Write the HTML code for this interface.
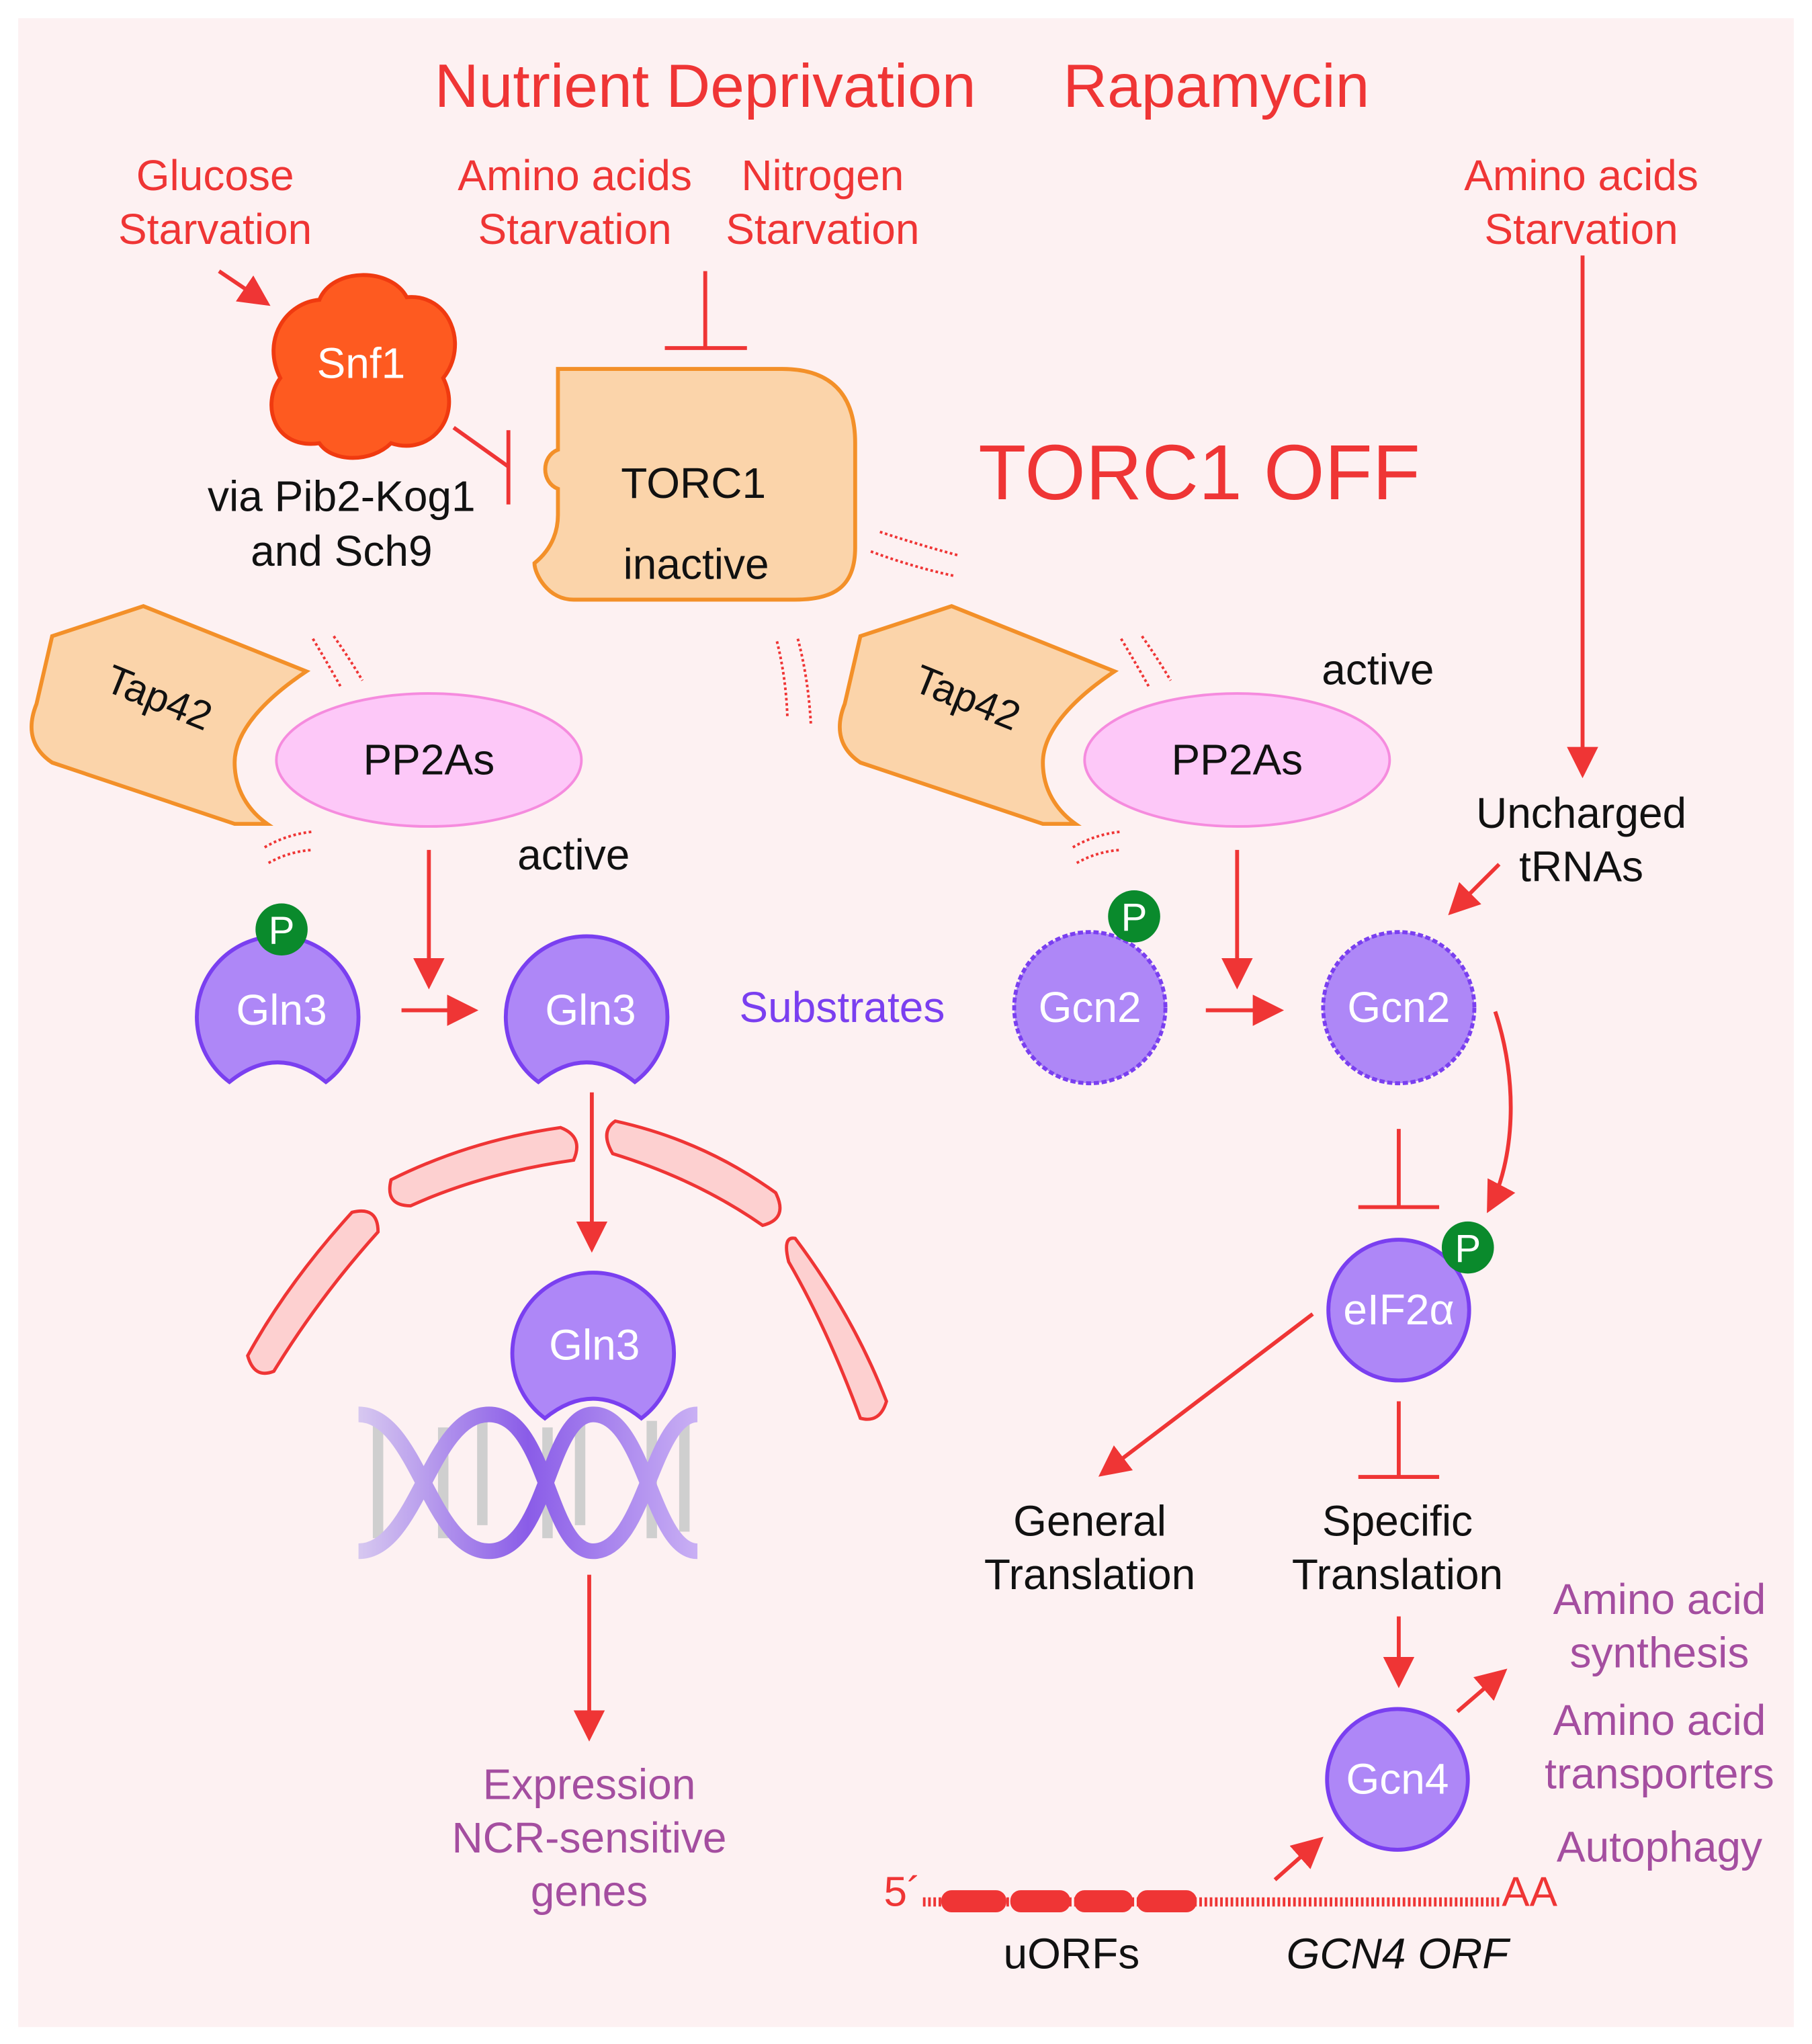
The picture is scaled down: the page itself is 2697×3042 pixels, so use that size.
<!DOCTYPE html>
<html><head><meta charset="utf-8"><style>
html,body{margin:0;padding:0;background:#fff;}
svg{display:block;}
text{font-family:"Liberation Sans",sans-serif;}
</style></head><body>
<svg width="2697" height="3042" viewBox="0 0 1390 1568" preserveAspectRatio="none" xmlns="http://www.w3.org/2000/svg">
<defs>
<marker id="ah" markerWidth="8" markerHeight="8" refX="7" refY="4" orient="auto" markerUnits="strokeWidth"><path d="M0,0 L8,4 L0,8 z" fill="#ef3535"/></marker>
<linearGradient id="dna" x1="0" x2="1"><stop offset="0" stop-color="#d7c8f0"/><stop offset="0.5" stop-color="#8a5ce8"/><stop offset="1" stop-color="#c9b0f4"/></linearGradient>
</defs>
<rect x="0" y="0" width="1390" height="1568" fill="#fff"/>
<rect x="14" y="14" width="1362" height="1541" fill="#fdf1f2"/>

<g fill="#ef3535" text-anchor="middle">
<text x="541" y="82" font-size="47">Nutrient Deprivation</text>
<text x="933" y="82" font-size="47">Rapamycin</text>
<text x="165" y="146" font-size="33">Glucose</text>
<text x="165" y="187" font-size="33">Starvation</text>
<text x="441" y="146" font-size="33">Amino acids</text>
<text x="441" y="187" font-size="33">Starvation</text>
<text x="631" y="146" font-size="33">Nitrogen</text>
<text x="631" y="187" font-size="33">Starvation</text>
<text x="1213" y="146" font-size="33">Amino acids</text>
<text x="1213" y="187" font-size="33">Starvation</text>
<text x="920" y="383" font-size="60">TORC1 OFF</text>
</g>

<g stroke="#ef3535" stroke-width="3" fill="none">
<line x1="168" y1="208" x2="205" y2="233" marker-end="url(#ah)"/>
<line x1="541" y1="208" x2="541" y2="266"/>
<line x1="510" y1="267" x2="573" y2="267"/>
<line x1="348" y1="328" x2="390" y2="358"/>
<line x1="390" y1="330" x2="390" y2="387"/>
<line x1="1214" y1="196" x2="1214" y2="594" marker-end="url(#ah)"/>
<line x1="329" y1="652" x2="329" y2="756" marker-end="url(#ah)"/>
<line x1="308" y1="775" x2="364" y2="775" marker-end="url(#ah)"/>
<line x1="454" y1="838" x2="454" y2="958" marker-end="url(#ah)"/>
<line x1="452" y1="1208" x2="452" y2="1333" marker-end="url(#ah)"/>
<line x1="949" y1="652" x2="949" y2="756" marker-end="url(#ah)"/>
<line x1="925" y1="775" x2="982" y2="775" marker-end="url(#ah)"/>
<line x1="1150" y1="663" x2="1113" y2="700" marker-end="url(#ah)"/>
<line x1="1073" y1="866" x2="1073" y2="925"/>
<line x1="1042" y1="926" x2="1104" y2="926"/>
<path d="M1147,776 C1165,830 1162,890 1142,928" marker-end="url(#ah)"/>
<line x1="1007" y1="1008" x2="845" y2="1131" marker-end="url(#ah)"/>
<line x1="1073" y1="1075" x2="1073" y2="1132"/>
<line x1="1042" y1="1133" x2="1104" y2="1133"/>
<line x1="1073" y1="1240" x2="1073" y2="1292" marker-end="url(#ah)"/>
<line x1="1118" y1="1313" x2="1154" y2="1282" marker-end="url(#ah)"/>
<line x1="978" y1="1442" x2="1013" y2="1411" marker-end="url(#ah)"/>
</g>

<path d="M245,230 C255,205 300,205 312,228 C345,225 360,265 340,290 C355,320 330,350 300,340 C285,355 255,355 245,340 C210,345 200,310 215,290 C200,260 220,232 245,230 z" fill="#fe5a20" stroke="#f03a10" stroke-width="3"/>
<text x="277" y="290" font-size="33" fill="#fff" text-anchor="middle">Snf1</text>
<text x="262" y="392" font-size="33" fill="#111" text-anchor="middle">via Pib2-Kog1</text>
<text x="262" y="434" font-size="33" fill="#111" text-anchor="middle">and Sch9</text>

<path d="M428,283 L600,283 C640,283 656,305 656,340 L656,420 C656,450 640,460 610,460 L440,460 C420,460 410,440 410,432 C425,420 428,405 428,395 L428,375 C415,370 415,350 428,345 z" fill="#fbd4aa" stroke="#f39029" stroke-width="3"/>
<text x="532" y="382" font-size="33" fill="#111" text-anchor="middle">TORC1</text>
<text x="534" y="444" font-size="33" fill="#111" text-anchor="middle">inactive</text>

<g stroke="#ef3535" stroke-width="2" stroke-dasharray="2,2" fill="none">
<path d="M675,408 Q705,418 735,426"/><path d="M668,423 Q700,435 733,442"/>
<path d="M596,492 Q603,520 604,550"/><path d="M612,490 Q620,520 622,555"/>
<path d="M240,490 Q252,510 262,528"/><path d="M256,488 Q268,505 278,522"/>
<path d="M860,490 Q872,510 882,528"/><path d="M876,488 Q888,505 898,522"/>
<path d="M203,650 Q220,640 240,638"/><path d="M206,662 Q222,653 240,652"/>
<path d="M823,650 Q840,640 860,638"/><path d="M826,662 Q842,653 860,652"/>
</g>

<path d="M40,488 L110,465 L235,515 C205,535 180,560 180,585 C180,610 195,625 205,632 L180,632 L40,585 C25,575 20,560 28,540 z" fill="#fbd4aa" stroke="#f39029" stroke-width="3"/>
<text x="118" y="545" font-size="31" fill="#111" text-anchor="middle" transform="rotate(22 118 545)">Tap42</text>
<ellipse cx="329" cy="583" rx="117" ry="51" fill="#fdc8f8" stroke="#f58bde" stroke-width="2"/>
<text x="329" y="594" font-size="33" fill="#111" text-anchor="middle">PP2As</text>
<text x="440" y="667" font-size="33" fill="#111" text-anchor="middle">active</text>

<path d="M660,488 L730,465 L855,515 C825,535 800,560 800,585 C800,610 815,625 825,632 L800,632 L660,585 C645,575 640,560 648,540 z" fill="#fbd4aa" stroke="#f39029" stroke-width="3"/>
<text x="738" y="545" font-size="31" fill="#111" text-anchor="middle" transform="rotate(22 738 545)">Tap42</text>
<ellipse cx="949" cy="583" rx="117" ry="51" fill="#fdc8f8" stroke="#f58bde" stroke-width="2"/>
<text x="949" y="594" font-size="33" fill="#111" text-anchor="middle">PP2As</text>
<text x="1057" y="525" font-size="33" fill="#111" text-anchor="middle">active</text>

<g fill="#ae87f7" stroke="#7a3ff0" stroke-width="3">
<path d="M176,830 A62,62 0 1 1 250,830 Q213,800 176,830 z"/>
<path d="M413,830 A62,62 0 1 1 487,830 Q450,800 413,830 z"/>
<path d="M418,1088 A62,62 0 1 1 492,1088 Q455,1058 418,1088 z"/>
</g>
<g font-size="33" fill="#fff" text-anchor="middle">
<text x="216" y="786">Gln3</text><text x="453" y="786">Gln3</text><text x="456" y="1043">Gln3</text>
</g>
<circle cx="216" cy="713" r="20" fill="#0a8a2c"/><text x="216" y="724" font-size="30" fill="#fff" text-anchor="middle">P</text>
<text x="646" y="784" font-size="33" fill="#7a3ff0" text-anchor="middle">Substrates</text>

<g fill="#fdd0d0" stroke="#ef3535" stroke-width="2.5">
<path d="M300,905 Q360,875 430,865 Q448,872 440,890 Q370,900 315,925 Q295,925 300,905 z"/>
<path d="M472,860 Q540,875 595,915 Q605,935 585,940 Q535,905 470,885 Q460,868 472,860 z"/>
<path d="M270,930 Q220,985 190,1040 Q195,1058 210,1052 Q245,995 290,945 Q290,925 270,930 z"/>
<path d="M610,950 Q655,1010 680,1075 Q675,1092 660,1088 Q635,1020 605,968 Q600,948 610,950 z"/>
</g>

<g stroke="#cfcfcf" stroke-width="8">
<line x1="290" y1="1090" x2="290" y2="1180"/><line x1="340" y1="1095" x2="340" y2="1180"/>
<line x1="370" y1="1085" x2="370" y2="1170"/><line x1="420" y1="1095" x2="420" y2="1180"/>
<line x1="445" y1="1085" x2="445" y2="1170"/><line x1="500" y1="1090" x2="500" y2="1180"/>
<line x1="525" y1="1085" x2="525" y2="1175"/>
</g>
<g fill="none" stroke="url(#dna)" stroke-width="12">
<path d="M275,1085 C320,1085 330,1190 375,1190 C420,1190 420,1085 455,1085 C495,1085 500,1190 535,1190"/>
<path d="M275,1190 C320,1190 330,1085 375,1085 C420,1085 420,1190 455,1190 C495,1190 500,1085 535,1085"/>
</g>
<g font-size="33" fill="#a44ea0" text-anchor="middle">
<text x="452" y="1380">Expression</text><text x="452" y="1421">NCR-sensitive</text><text x="452" y="1462">genes</text>
</g>

<g fill="#ae87f7" stroke="#7a3ff0" stroke-width="3" stroke-dasharray="4,2">
<circle cx="836" cy="773" r="58"/><circle cx="1073" cy="773" r="58"/>
</g>
<text x="836" y="784" font-size="33" fill="#fff" text-anchor="middle">Gcn2</text>
<text x="1073" y="784" font-size="33" fill="#fff" text-anchor="middle">Gcn2</text>
<circle cx="870" cy="703" r="20" fill="#0a8a2c"/><text x="870" y="714" font-size="30" fill="#fff" text-anchor="middle">P</text>
<text x="1213" y="635" font-size="33" fill="#111" text-anchor="middle">Uncharged</text>
<text x="1213" y="676" font-size="33" fill="#111" text-anchor="middle">tRNAs</text>

<circle cx="1073" cy="1005" r="54" fill="#ae87f7" stroke="#7a3ff0" stroke-width="3"/>
<text x="1073" y="1016" font-size="33" fill="#fff" text-anchor="middle">eIF2α</text>
<circle cx="1126" cy="957" r="20" fill="#0a8a2c"/><text x="1126" y="968" font-size="30" fill="#fff" text-anchor="middle">P</text>

<g font-size="33" fill="#111" text-anchor="middle">
<text x="836" y="1178">General</text><text x="836" y="1219">Translation</text>
<text x="1072" y="1178">Specific</text><text x="1072" y="1219">Translation</text>
</g>

<circle cx="1072" cy="1365" r="54" fill="#ae87f7" stroke="#7a3ff0" stroke-width="3"/>
<text x="1072" y="1376" font-size="33" fill="#fff" text-anchor="middle">Gcn4</text>
<g font-size="33" fill="#a44ea0" text-anchor="middle">
<text x="1273" y="1238">Amino acid</text><text x="1273" y="1279">synthesis</text>
<text x="1273" y="1331">Amino acid</text><text x="1273" y="1372">transporters</text>
<text x="1273" y="1428">Autophagy</text>
</g>

<text x="678" y="1462" font-size="32" fill="#ef3535">5´</text>
<line x1="708" y1="1459" x2="1150" y2="1459" stroke="#ef3535" stroke-width="7" stroke-dasharray="2,2"/>
<g fill="#ef3535">
<rect x="722" y="1450" width="50" height="17" rx="8"/><rect x="775" y="1450" width="46" height="17" rx="8"/>
<rect x="824" y="1450" width="45" height="17" rx="8"/><rect x="872" y="1450" width="46" height="17" rx="8"/>
</g>
<text x="1152" y="1462" font-size="32" fill="#ef3535">AA</text>
<text x="822" y="1510" font-size="33" fill="#111" text-anchor="middle">uORFs</text>
<text x="1072" y="1510" font-size="33" fill="#111" text-anchor="middle" font-style="italic">GCN4 ORF</text>
</svg>
</body></html>
